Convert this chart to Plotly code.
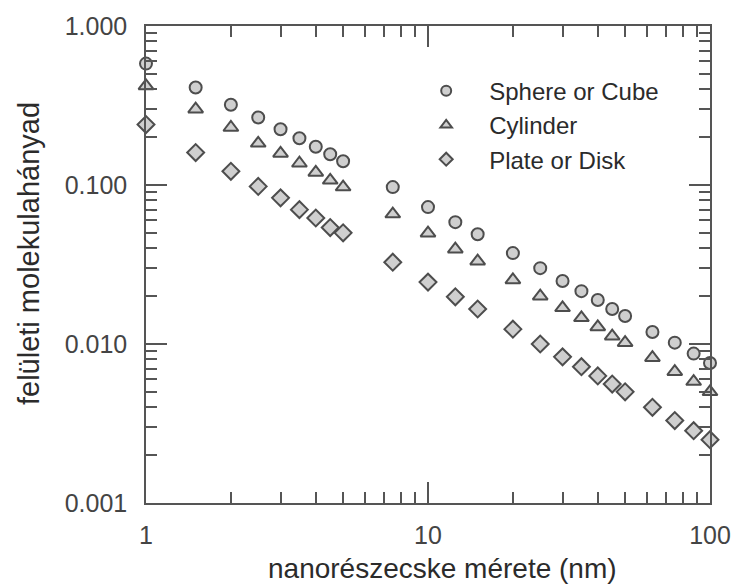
import plotly.graph_objects as go

# ---- data ----
x_vals = [1, 1.5, 2, 2.5, 3, 3.5, 4, 4.5, 5,
          7.5, 10, 12.5, 15, 20, 25, 30, 35, 40, 45, 50, 62.5, 75, 87.5, 100]

sphere = [0.58, 0.41, 0.32, 0.266, 0.224, 0.197, 0.174, 0.156, 0.141,
          0.097, 0.0726, 0.0584, 0.049, 0.0373, 0.030, 0.0249, 0.0215, 0.0189,
          0.0166, 0.0150, 0.0119, 0.0102, 0.0087, 0.0076]

cylinder = [0.42, 0.30, 0.23, 0.183, 0.158, 0.137, 0.120, 0.107, 0.097,
            0.0656, 0.0498, 0.0395, 0.0332, 0.0253, 0.0200, 0.0169, 0.0146, 0.0128,
            0.0112, 0.0102, 0.0082, 0.0067, 0.0058, 0.0050]

plate = [0.24, 0.16, 0.122, 0.098, 0.083, 0.070, 0.062, 0.054, 0.050,
         0.0327, 0.0245, 0.0198, 0.0166, 0.0124, 0.0100, 0.0083, 0.0072, 0.0063,
         0.0056, 0.0050, 0.0040, 0.0033, 0.00285, 0.0025]

series_names = ["Sphere or Cube", "Cylinder", "Plate or Disk"]
series_symbols = ["circle", "triangle-up", "diamond"]

x_major = [1, 10, 100]
x_major_text = ["1", "10", "100"]
y_major = [0.001, 0.01, 0.1, 1]
y_major_text = ["0.001", "0.010", "0.100", "1.000"]

x_minor = [m * d for d in (1, 10) for m in range(2, 10)]
y_minor = [m * d for d in (0.001, 0.01, 0.1) for m in range(2, 10)]

x_title = "nanorészecske mérete (nm)"
y_title = "felületi molekulahányad"

# ---- styles ----
FONT = "Liberation Sans, Arial, sans-serif"
TXT = "#2b2b2b"
TICKTXT = "#444444"
LINE = "#555555"
EDGE = "#4d4d4d"
FILL = "#cfcfcf"
sizes = [12, 13, 13]

fig = go.Figure()
for name, ys, sym, sz in zip(series_names, [sphere, cylinder, plate], series_symbols, sizes):
    fig.add_trace(go.Scatter(
        x=x_vals, y=ys, mode="markers", name=name, showlegend=False,
        cliponaxis=False, hoverinfo="x+y+name",
        marker=dict(symbol=sym, size=sz, color=FILL,
                    line=dict(color=EDGE, width=2)),
    ))
    # legend entry with smaller symbols
    fig.add_trace(go.Scatter(
        x=[None], y=[None], mode="markers", name=name, showlegend=True,
        marker=dict(symbol=sym, size=10, color=FILL,
                    line=dict(color=EDGE, width=2)),
    ))

# invisible trace to carry the minor-tick overlay axes
fig.add_trace(go.Scatter(x=[None], y=[None], xaxis="x2", yaxis="y2",
                         mode="markers", showlegend=False, hoverinfo="skip"))

common_major = dict(
    ticks="inside", ticklen=21, tickwidth=1.5, tickcolor=LINE,
    showline=True, linecolor=LINE, linewidth=1.5, mirror="ticks",
    showgrid=False, zeroline=False, tickmode="array",
)
common_minor = dict(
    ticks="inside", ticklen=11, tickwidth=1.5, tickcolor=LINE,
    showline=False, mirror="ticks", showgrid=False, zeroline=False,
    showticklabels=False, tickmode="array",
)

fig.update_layout(
    width=743, height=587,
    margin=dict(l=146, r=26, t=25, b=84),
    paper_bgcolor="white", plot_bgcolor="white",
    font=dict(family=FONT, color=TXT, size=22),
    showlegend=True,
    legend=dict(x=0.456, y=0.9105, xanchor="left", yanchor="top",
                bgcolor="rgba(0,0,0,0)", font=dict(size=24, color=TXT),
                itemwidth=76, tracegroupgap=0),
    xaxis=dict(type="log", range=[0, 2], tickvals=x_major, ticktext=x_major_text,
               tickfont=dict(size=25, color=TICKTXT), ticklabelstandoff=9,
               **common_major),
    yaxis=dict(type="log", range=[-3, 0], tickvals=y_major, ticktext=y_major_text,
               tickfont=dict(size=25, color=TICKTXT), ticklabelstandoff=12,
               **common_major),
    xaxis2=dict(type="log", range=[0, 2], tickvals=x_minor, overlaying="x",
                anchor="y2", side="bottom", **common_minor),
    yaxis2=dict(type="log", range=[-3, 0], tickvals=y_minor, overlaying="y",
                anchor="x2", side="left", **common_minor),
    annotations=[
        dict(text=x_title, xref="paper", yref="paper", x=0.525, y=-0.1735,
             xanchor="center", yanchor="bottom", showarrow=False,
             font=dict(size=28, color=TXT)),
        dict(text=y_title, xref="paper", yref="paper", x=-0.207, y=0.5225,
             xanchor="center", yanchor="middle", showarrow=False, textangle=-90,
             font=dict(size=29, color=TXT)),
    ],
)

fig.write_html("out.html")
